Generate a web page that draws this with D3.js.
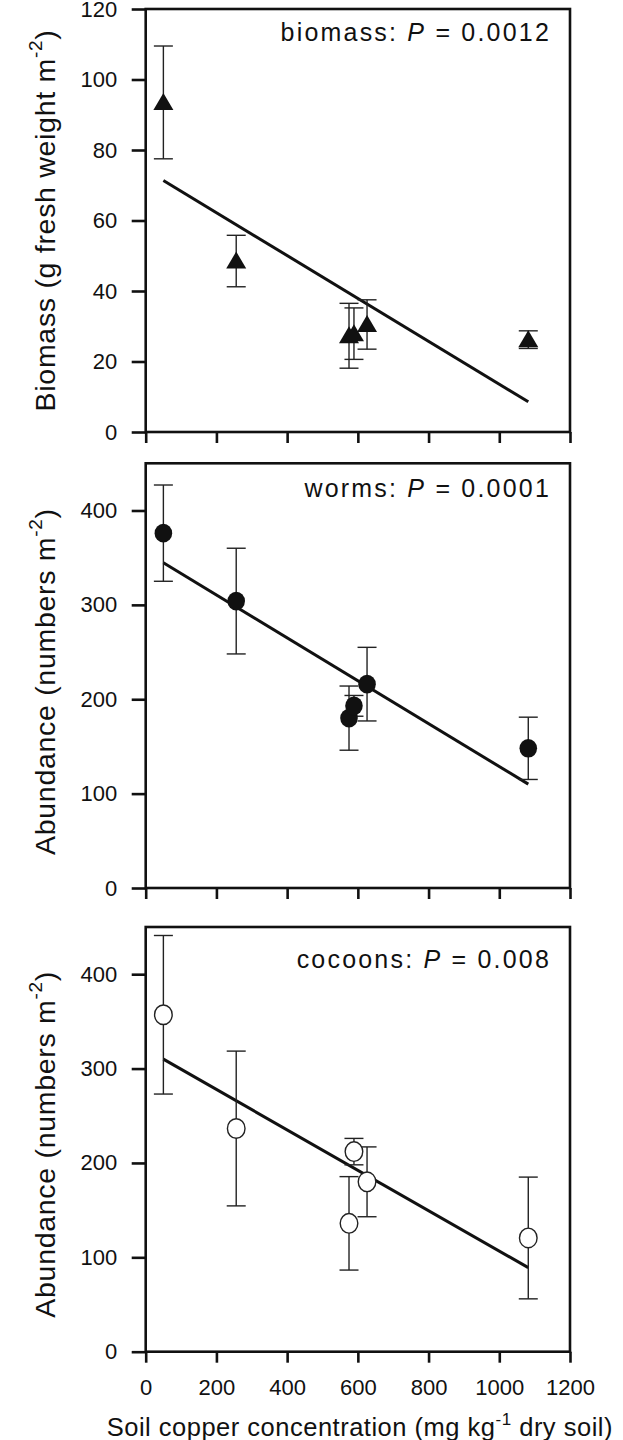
<!DOCTYPE html>
<html>
<head>
<meta charset="utf-8">
<script src="https://cdn.jsdelivr.net/npm/d3@7"></script>
<style>
  html, body { margin: 0; padding: 0; background: #fff; }
  svg { display: block; }
  text { font-family: "Liberation Sans", Arial, sans-serif; fill: #111; }
</style>
</head>
<body>
<svg id="chart" width="623" height="1440"></svg>
<script>
// ---------- data ----------
const copper = [50, 256, 575, 589, 626, 1082];          // soil Cu (mg/kg)
const biomass = [93.5, 48.5, 27.3, 27.9, 30.5, 26.2];   // g fresh weight m-2
const biomassSE = [16, 7.3, 9.2, 7.3, 7.0, 2.5];
const worms = [376, 304, 180, 193, 216, 148];           // numbers m-2
const wormsSE = [51, 56, 34, 11, 39, 33];
const cocoons = [357, 236.5, 136, 212, 180, 120.5];     // numbers m-2
const cocoonsSE = [84, 82, 49.5, 14, 37, 64.5];

const fitIntercepts = [74.4, 355.9, 320.7];
const fitSlopes = [-0.06085, -0.2272, -0.2141];
const fitRange = [50, 1082];

const xTicks = [0, 200, 400, 600, 800, 1000, 1200];
const yTicksBiomass = [0, 20, 40, 60, 80, 100, 120];
const yTicksAbundance = [0, 100, 200, 300, 400];

const panelNames = ["biomass", "worms", "cocoons"];
const pValues = ["0.0012", "0.0001", "0.008"];
const yTitles = ["Biomass (g fresh weight m", "Abundance (numbers m", "Abundance (numbers m"];
const xTitleParts = ["Soil copper concentration (mg kg", "-1", " dry soil)"];

// ---------- layout ----------
const svg = d3.select("#chart");
const left = 145.7, right = 570;
const x = d3.scaleLinear().domain([0, 1200]).range([left, right]);

const panels = [
  { vals: biomass, se: biomassSE, domain: [0, 120], range: [432, 9], ticks: yTicksBiomass, marker: "triangle", pOff: 32, titleShift: 0 },
  { vals: worms, se: wormsSE, domain: [0, 450], range: [888, 463.3], ticks: yTicksAbundance, marker: "filled", pOff: 34, titleShift: 6 },
  { vals: cocoons, se: cocoonsSE, domain: [0, 450], range: [1351.7, 927], ticks: yTicksAbundance, marker: "open", pOff: 41, titleShift: 5 }
];

panels.forEach((p, i) => {
  const y = d3.scaleLinear().domain(p.domain).range(p.range);
  const g = svg.append("g");

  // y axis
  const ya = g.append("g").attr("transform", `translate(${left},0)`)
    .call(d3.axisLeft(y).tickValues(p.ticks).tickSize(14).tickPadding(14.5).tickFormat(d3.format("d")));
  ya.select(".domain").remove();
  ya.selectAll(".tick line").attr("stroke", "#111").attr("stroke-width", 2.6);
  ya.selectAll(".tick text").attr("font-size", 22).attr("font-family", "Liberation Sans, Arial, sans-serif").attr("fill", "#111");

  // x axis
  const xa = g.append("g").attr("transform", `translate(0,${p.range[0]})`)
    .call(d3.axisBottom(x).tickValues(xTicks).tickSize(11).tickPadding(16.5)
      .tickFormat(i === 2 ? d3.format("d") : () => ""));
  xa.select(".domain").remove();
  xa.selectAll(".tick line").attr("stroke", "#111").attr("stroke-width", 2.6);
  xa.selectAll(".tick text").attr("font-size", 22).attr("font-family", "Liberation Sans, Arial, sans-serif").attr("fill", "#111");

  // frame
  g.append("rect")
    .attr("x", left).attr("y", p.range[1])
    .attr("width", right - left).attr("height", p.range[0] - p.range[1])
    .attr("fill", "none").attr("stroke", "#111").attr("stroke-width", 2.6);

  // regression line
  const a = fitIntercepts[i], b = fitSlopes[i];
  g.append("line")
    .attr("x1", x(fitRange[0])).attr("y1", y(a + b * fitRange[0]))
    .attr("x2", x(fitRange[1])).attr("y2", y(a + b * fitRange[1]))
    .attr("stroke", "#111").attr("stroke-width", 3);

  const data = copper.map((c, k) => ({ c, v: p.vals[k], e: p.se[k] }));

  // error bars
  const eb = g.append("g").attr("stroke", "#222").attr("stroke-width", 1.4).attr("fill", "none");
  data.forEach(d => {
    const cx = x(d.c);
    eb.append("line").attr("x1", cx).attr("x2", cx).attr("y1", y(d.v + d.e)).attr("y2", y(d.v - d.e));
    [d.v + d.e, d.v - d.e].forEach(v => {
      eb.append("line").attr("x1", cx - 9.5).attr("x2", cx + 9.5).attr("y1", y(v)).attr("y2", y(v));
    });
  });

  // markers
  const mg = g.append("g");
  data.forEach(d => {
    const cx = x(d.c), cy = y(d.v);
    if (p.marker === "triangle") {
      mg.append("path")
        .attr("d", `M${cx},${cy - 9.5} L${cx + 10},${cy + 7.5} L${cx - 10},${cy + 7.5} Z`)
        .attr("fill", "#111");
    } else if (p.marker === "filled") {
      mg.append("ellipse").attr("cx", cx).attr("cy", cy).attr("rx", 8.8).attr("ry", 9.3)
        .attr("fill", "#111");
    } else {
      mg.append("ellipse").attr("cx", cx).attr("cy", cy).attr("rx", 8.8).attr("ry", 9.8)
        .attr("fill", "#fff").attr("stroke", "#222").attr("stroke-width", 1.4);
    }
  });

  // P annotation
  const t = g.append("text")
    .attr("x", 551).attr("y", p.range[1] + p.pOff)
    .attr("text-anchor", "end").attr("font-size", 25).attr("letter-spacing", 2.2);
  t.append("tspan").text(panelNames[i] + ": ");
  t.append("tspan").attr("font-style", "italic").text("P");
  t.append("tspan").text(" = " + pValues[i]);

  // y title
  const cyTitle = (p.range[0] + p.range[1]) / 2 + p.titleShift;
  const yt = g.append("text")
    .attr("transform", `translate(55,${cyTitle}) rotate(-90)`)
    .attr("text-anchor", "middle").attr("font-size", 28.5).attr("letter-spacing", 0.7);
  yt.append("tspan").text(yTitles[i]);
  yt.append("tspan").attr("font-size", 19).attr("dy", -13).text("-2");
  yt.append("tspan").attr("dy", 13).text(")");
});

// x title
const xt = svg.append("text")
  .attr("x", (left + right) / 2 + 2).attr("y", 1436)
  .attr("text-anchor", "middle").attr("font-size", 25.5).attr("letter-spacing", 0.5);
xt.append("tspan").text(xTitleParts[0]);
xt.append("tspan").attr("font-size", 17).attr("dy", -11).text(xTitleParts[1]);
xt.append("tspan").attr("dy", 11).text(xTitleParts[2]);
</script>
</body>
</html>
